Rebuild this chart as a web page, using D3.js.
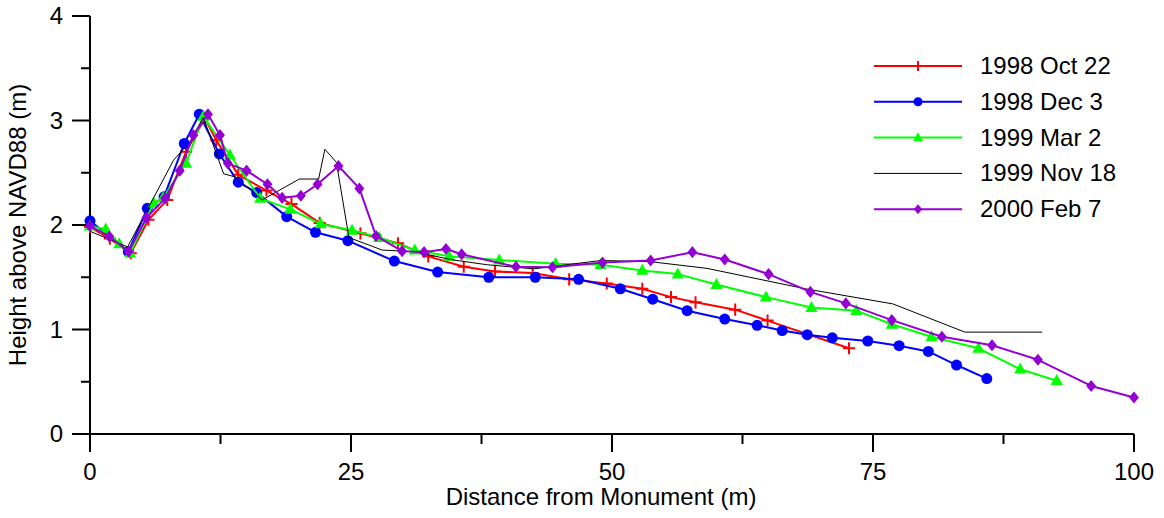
<!DOCTYPE html>
<html>
<head>
<meta charset="utf-8">
<script src="https://d3js.org/d3.v7.min.js"></script>
<style>
    body { margin: 0; background: #fff; }
    svg text { font-family: "Liberation Sans", Arial, sans-serif; fill: #000; }
</style>
</head>
<body>
<svg id="chart" width="1164" height="518"></svg>
<script>
//profile series, distance (m) and height (m)
const oct98X = [0, 1.9, 3.9, 5.6, 7.4, 9.2, 11.0, 12.1, 14.2, 16.9, 19.3, 22.0, 25.9, 29.5, 32.4, 35.8, 38.8, 42.4, 45.9, 49.5, 52.9, 55.65, 58.0, 61.8, 64.9, 72.7];
const oct98Y = [1.98, 1.87, 1.73, 2.05, 2.24, 2.70, 3.02, 2.81, 2.48, 2.33, 2.20, 2.02, 1.92, 1.825, 1.70, 1.60, 1.555, 1.54, 1.48, 1.44, 1.39, 1.31, 1.26, 1.19, 1.085, 0.82];

const dec98X = [0, 3.67, 5.49, 7.09, 9.03, 10.47, 12.39, 14.2, 15.97, 18.84, 21.6, 24.7, 29.15, 33.3, 38.2, 42.65, 46.8, 50.8, 53.9, 57.2, 60.8, 63.9, 66.3, 68.7, 71.1, 74.5, 77.5, 80.3, 83.0, 85.9];
const dec98Y = [2.04, 1.745, 2.16, 2.27, 2.78, 3.06, 2.68, 2.41, 2.31, 2.08, 1.93, 1.85, 1.655, 1.55, 1.50, 1.50, 1.48, 1.39, 1.29, 1.18, 1.10, 1.04, 0.99, 0.95, 0.92, 0.89, 0.845, 0.79, 0.66, 0.53];

const mar99X = [0, 1.5, 2.8, 3.85, 6.1, 7.0, 9.2, 10.85, 13.4, 16.3, 19.2, 22.1, 25.1, 27.7, 31.1, 34.4, 39.2, 44.6, 48.9, 52.9, 56.3, 60.0, 64.75, 69.1, 73.4, 76.8, 80.6, 85.1, 89.1, 92.6];
const mar99Y = [1.99, 1.96, 1.82, 1.73, 2.21, 2.26, 2.59, 3.04, 2.67, 2.255, 2.15, 2.01, 1.95, 1.88, 1.76, 1.70, 1.665, 1.63, 1.62, 1.565, 1.53, 1.43, 1.31, 1.21, 1.18, 1.05, 0.93, 0.82, 0.62, 0.51];

const nov99X = [0, 3.6, 8.0, 9.6, 10.85, 12.8, 13.9, 16.5, 20.05, 21.9, 22.5, 23.6, 24.8, 28.0, 31.1, 34.5, 38.0, 42.5, 48.9, 53.6, 59.1, 68.5, 76.9, 83.8, 91.2];
const nov99Y = [1.94, 1.79, 2.62, 2.80, 3.03, 2.49, 2.46, 2.24, 2.44, 2.44, 2.725, 2.60, 1.88, 1.76, 1.745, 1.67, 1.62, 1.58, 1.66, 1.65, 1.585, 1.39, 1.245, 0.975, 0.975];

const feb00X = [0, 1.85, 3.7, 5.4, 7.2, 8.6, 9.9, 11.3, 12.45, 13.2, 15.0, 17.0, 18.4, 20.2, 21.8, 23.8, 25.8, 27.4, 29.9, 32.0, 34.1, 35.6, 40.8, 44.3, 49.1, 53.7, 57.7, 60.8, 65.0, 69.0, 72.4, 76.8, 81.6, 86.4, 90.8, 95.9, 100];
const feb00Y = [1.99, 1.89, 1.745, 2.07, 2.255, 2.52, 2.86, 3.06, 2.86, 2.59, 2.52, 2.39, 2.26, 2.28, 2.39, 2.565, 2.35, 1.895, 1.75, 1.74, 1.77, 1.72, 1.60, 1.595, 1.64, 1.66, 1.74, 1.67, 1.53, 1.36, 1.25, 1.09, 0.93, 0.85, 0.71, 0.46, 0.35];

const seriesNames = ["1998 Oct 22", "1998 Dec 3", "1999 Mar 2", "1999 Nov 18", "2000 Feb 7"];

//axis ticks
const xTicks = [0, 25, 50, 75, 100];
const xMinorTicks = [12.5, 37.5, 62.5, 87.5];
const yTicks = [0, 1, 2, 3, 4];
const yMinorTicks = [0.5, 1.5, 2.5, 3.5];

const xTitle = "Distance from Monument (m)";
const yTitle = "Height above NAVD88 (m)";

let svg = d3.select("#chart");

let xScale = d3.scaleLinear().domain([0, 100]).range([90, 1134]);
let yScale = d3.scaleLinear().domain([0, 4]).range([434, 16]);

function zipSeries(xs, ys) {
    let pts = [];
    for (let i = 0; i < xs.length; i++) {
        pts.push([xs[i], ys[i]]);
    }
    return pts;
}

let series = [
    {name: seriesNames[0], data: zipSeries(oct98X, oct98Y), color: "#ff0000", width: 2, marker: "plus"},
    {name: seriesNames[1], data: zipSeries(dec98X, dec98Y), color: "#0000ff", width: 2, marker: "circle"},
    {name: seriesNames[2], data: zipSeries(mar99X, mar99Y), color: "#00ff00", width: 2, marker: "triangle"},
    {name: seriesNames[3], data: zipSeries(nov99X, nov99Y), color: "#000000", width: 1, marker: "none"},
    {name: seriesNames[4], data: zipSeries(feb00X, feb00Y), color: "#9400d3", width: 2, marker: "diamond"}
];

//draw one marker at cx, cy
function drawMarker(g, kind, cx, cy, color, size) {
    if (kind == "circle") {
        g.append("circle").attr("cx", cx).attr("cy", cy).attr("r", size * 0.5).attr("fill", color);
    }
    else if (kind == "triangle") {
        let h = size;
        let w = size * 1.1;
        g.append("path")
            .attr("d", `M${cx},${cy - h * 0.6}L${cx + w / 2},${cy + h * 0.4}L${cx - w / 2},${cy + h * 0.4}Z`)
            .attr("fill", color);
    }
    else if (kind == "diamond") {
        let h = size * 0.55;
        let w = size * 0.45;
        g.append("path")
            .attr("d", `M${cx},${cy - h}L${cx + w},${cy}L${cx},${cy + h}L${cx - w},${cy}Z`)
            .attr("fill", color);
    }
    else if (kind == "plus") {
        let a = size * 0.55;
        g.append("path")
            .attr("d", `M${cx - a},${cy}H${cx + a}M${cx},${cy - a}V${cy + a}`)
            .attr("stroke", color).attr("stroke-width", 2).attr("fill", "none");
    }
}

//axes
let axes = svg.append("g").attr("stroke", "#000").attr("stroke-width", 2);
axes.append("line").attr("x1", xScale(0)).attr("x2", xScale(0)).attr("y1", yScale(4)).attr("y2", yScale(0) + 18);
axes.append("line").attr("x1", xScale(0) - 18).attr("x2", xScale(100)).attr("y1", yScale(0)).attr("y2", yScale(0));

for (let i = 0; i < yTicks.length; i++) {
    axes.append("line").attr("x1", xScale(0) - 18).attr("x2", xScale(0)).attr("y1", yScale(yTicks[i])).attr("y2", yScale(yTicks[i]));
    svg.append("text").attr("x", 63).attr("y", yScale(yTicks[i]) + 8)
        .attr("text-anchor", "end").attr("font-size", 24).text(yTicks[i]);
}
for (let i = 0; i < yMinorTicks.length; i++) {
    axes.append("line").attr("x1", xScale(0) - 9).attr("x2", xScale(0)).attr("y1", yScale(yMinorTicks[i])).attr("y2", yScale(yMinorTicks[i]));
}
for (let i = 0; i < xTicks.length; i++) {
    axes.append("line").attr("x1", xScale(xTicks[i])).attr("x2", xScale(xTicks[i])).attr("y1", yScale(0)).attr("y2", yScale(0) + 18);
    svg.append("text").attr("x", xScale(xTicks[i])).attr("y", 480)
        .attr("text-anchor", "middle").attr("font-size", 24).text(xTicks[i]);
}
for (let i = 0; i < xMinorTicks.length; i++) {
    axes.append("line").attr("x1", xScale(xMinorTicks[i])).attr("x2", xScale(xMinorTicks[i])).attr("y1", yScale(0)).attr("y2", yScale(0) + 10);
}

svg.append("text").attr("x", 601).attr("y", 505).attr("text-anchor", "middle").attr("font-size", 24).text(xTitle);
svg.append("text").attr("transform", "translate(26,225) rotate(-90)").attr("text-anchor", "middle").attr("font-size", 24).text(yTitle);

//lines and markers
let line = d3.line().x(d => xScale(d[0])).y(d => yScale(d[1]));
for (let i = 0; i < series.length; i++) {
    let s = series[i];
    let g = svg.append("g");
    g.append("path").datum(s.data).attr("d", line)
        .attr("fill", "none").attr("stroke", s.color).attr("stroke-width", s.width).attr("stroke-linejoin", "round");
    for (let j = 0; j < s.data.length; j++) {
        drawMarker(g, s.marker, xScale(s.data[j][0]), yScale(s.data[j][1]), s.color, 11);
    }
}

//legend
let legend = svg.append("g");
for (let i = 0; i < series.length; i++) {
    let ly = 66 + i * 35.8;
    legend.append("line").attr("x1", 874).attr("x2", 962).attr("y1", ly).attr("y2", ly)
        .attr("stroke", series[i].color).attr("stroke-width", series[i].width);
    drawMarker(legend, series[i].marker, 918, ly, series[i].color, 9);
    legend.append("text").attr("x", 980).attr("y", ly + 8).attr("font-size", 24).text(series[i].name);
}
</script>
</body>
</html>
